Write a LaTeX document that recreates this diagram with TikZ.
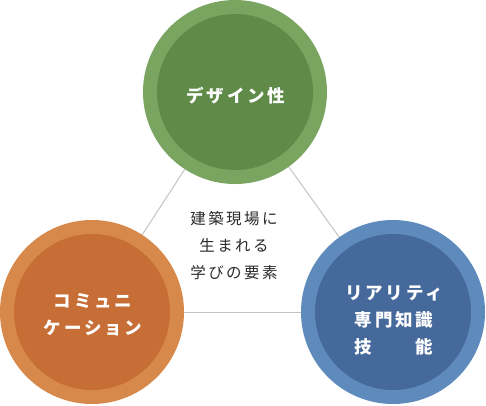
\documentclass[tikz,border=0pt]{standalone}
\usepackage{fontspec}
\newfontfamily\jpfont[LetterSpace=16]{Noto Sans CJK JP}
\usetikzlibrary{positioning,backgrounds}
\definecolor{greenout}{HTML}{7AA561}
\definecolor{greenin}{HTML}{5F8A48}
\definecolor{orangeout}{HTML}{D6894B}
\definecolor{orangein}{HTML}{C66E35}
\definecolor{blueout}{HTML}{5F8BBC}
\definecolor{bluein}{HTML}{46699C}
\definecolor{linkgray}{HTML}{C4C4C4}
\definecolor{coretext}{HTML}{2A2A2A}

\begin{document}
\begin{tikzpicture}[x=1pt,y=-1pt,
  ring/.style={circle,fill=#1,minimum size=184pt,inner sep=0pt},
  disc/.style={circle,fill=#1,minimum size=156pt,inner sep=0pt},
  label/.style={text=white,align=center,font=\jpfont\bfseries\fontsize{17.5}{27}\selectfont},
  link/.style={draw=linkgray,line width=1pt},
  core/.style={align=center,text=coretext,font=\jpfont\fontsize{15.5}{27}\selectfont}
]
\useasboundingbox (0,0) rectangle (486,405);
\node[ring=greenout]  (design) at (235,92)  {};
\node[ring=orangeout] (comm)   at (92,312)  {};
\node[ring=blueout]   (real)   at (393,312) {};
\node[disc=greenin]  (designin) at (design) {};
\node[disc=orangein] (commin)   at (comm)   {};
\node[disc=bluein]   (realin)   at (real)   {};
\node[label] (designtxt) at (236,96)  {デザイン性};
\node[label] (commtxt)   at (93,315)  {コミュニ\\ケーション};
\node[label] (realtxt)   at (394,320) {リアリティ\\専門知識\\技　　能};
\node[core] (site) at (234,246) {建築現場に\\生まれる\\学びの要素};

\begin{scope}[on background layer]
\draw[link] (design.center) -- (comm.center);
\draw[link] (design.center) -- (real.center);
\draw[link] (comm.center) -- (real.center);
\end{scope}
\end{tikzpicture}
\end{document}
